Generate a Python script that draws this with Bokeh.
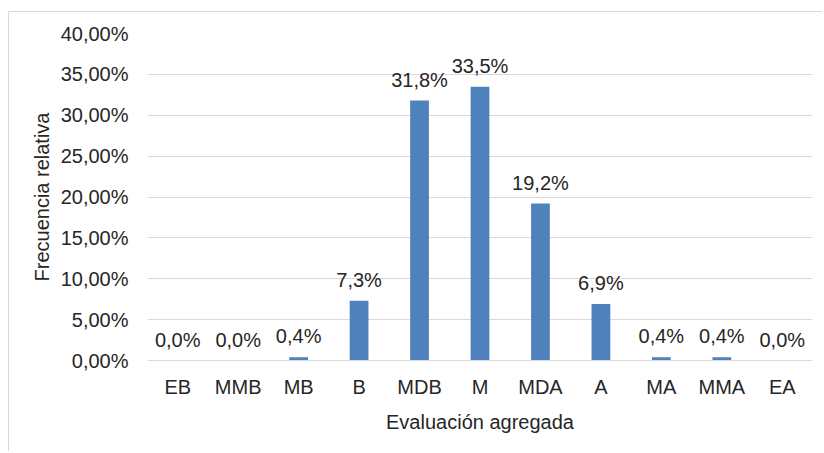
from bokeh.plotting import figure
from bokeh.models import ColumnDataSource, FixedTicker, CustomJSTickFormatter, LabelSet
from bokeh.core.properties import value
from bokeh.embed import file_html
from bokeh.resources import INLINE

categories = ["EB", "MMB", "MB", "B", "MDB", "M", "MDA", "A", "MA", "MMA", "EA"]
values = [0.0, 0.0, 0.4, 7.3, 31.8, 33.5, 19.2, 6.9, 0.4, 0.4, 0.0]
y_ticks = [0, 5, 10, 15, 20, 25, 30, 35, 40]

labels = [("%.1f" % v).replace(".", ",") + "%" for v in values]
src = ColumnDataSource(dict(cat=categories, val=values, lab=labels))

FONT = "Liberation Sans"
TXT = "#262626"
FS = "20px"

p = figure(x_range=categories, y_range=(0, 40), width=814, height=440,
           output_backend="svg", toolbar_location=None,
           min_border_left=138, min_border_right=11, min_border_top=21, min_border_bottom=92)
p.outline_line_color = None
p.styles = {"border-left": "1px solid #d9d9d9", "border-top": "1px solid #d9d9d9",
            "margin-top": "11px", "margin-left": "8px"}

p.vbar(x="cat", top="val", width=0.31, source=src, color="#4f81bd", line_color=None)

p.add_layout(LabelSet(x="cat", y="val", text="lab", source=src, text_align="center",
                      text_baseline="alphabetic", y_offset=14, text_font=value(FONT),
                      text_font_size=value(FS), text_color=TXT))

p.xgrid.grid_line_color = None
p.ygrid.grid_line_color = "#d9d9d9"
p.ygrid.grid_line_width = 1
p.yaxis.ticker = FixedTicker(ticks=y_ticks)
p.yaxis.formatter = CustomJSTickFormatter(code="return tick.toFixed(2).replace('.', ',') + '%';")

for ax in (p.xaxis[0], p.yaxis[0]):
    ax.major_label_text_font = FONT
    ax.major_label_text_font_size = FS
    ax.major_label_text_color = TXT
    ax.axis_label_text_font = FONT
    ax.axis_label_text_font_size = FS
    ax.axis_label_text_color = TXT
    ax.axis_label_text_font_style = "normal"
    ax.major_tick_line_color = None
    ax.minor_tick_line_color = None

p.yaxis.axis_line_color = None
p.xaxis.axis_line_color = "#d9d9d9"
p.yaxis.major_label_standoff = 13
p.xaxis.major_label_standoff = 9
p.xaxis.axis_label = "Evaluación agregada"
p.yaxis.axis_label = "Frecuencia relativa"
p.xaxis.axis_label_standoff = 10
p.yaxis.axis_label_standoff = 5

open("out.html", "w").write(file_html(p, INLINE))
